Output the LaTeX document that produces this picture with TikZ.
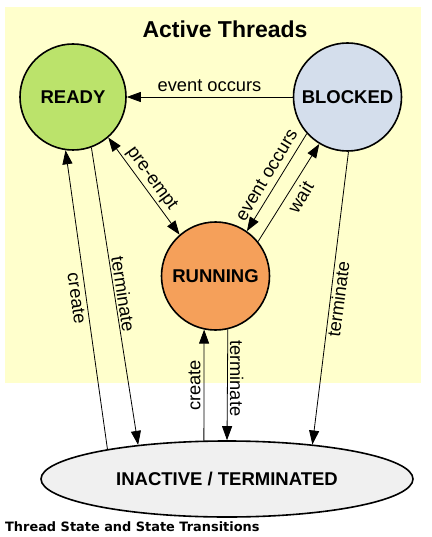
\documentclass[tikz,border=0pt]{standalone}
\usepackage{fontspec}
\setmainfont{Liberation Sans}
\newfontfamily\capfont{DejaVu Sans}
\usetikzlibrary{arrows.meta,shapes.geometric}
\definecolor{bgyellow}{HTML}{FFFFCC}
\definecolor{readyc}{HTML}{BBE36B}
\definecolor{blockedc}{HTML}{D4DEEC}
\definecolor{runningc}{HTML}{F5A05A}
\definecolor{inactivec}{HTML}{F0F0F0}
\tikzset{
  state/.style={circle,draw=black,line width=1.6pt,minimum size=108pt,inner sep=1pt,
    font=\fontsize{18.5}{20}\selectfont\bfseries},
  conn/.style={line width=0.8pt,-{Triangle[length=14pt,width=10pt]}},
  conntwo/.style={line width=0.8pt,{Triangle[length=14pt,width=10pt]}-{Triangle[length=14pt,width=10pt]}},
  lbl/.style={inner sep=0pt,font=\fontsize{18.3}{20}\selectfont},
}
\begin{document}
\begin{tikzpicture}[x=1pt,y=-1pt]
\useasboundingbox (0,0) rectangle (431,537);
\fill[bgyellow] (5,7) rectangle (421,383);
\node[inner sep=0pt,font=\fontsize{23}{25}\selectfont\bfseries] (title) at (225,29.5) {Active Threads};
\node[state,fill=readyc,minimum size=106pt] (ready) at (73,97) {READY};
\node[state,fill=blockedc] (blocked) at (347.5,97) {BLOCKED};
\node[state,fill=runningc] (running) at (215.5,276) {RUNNING};
\node[ellipse,draw=black,line width=1.6pt,fill=inactivec,minimum width=372pt,minimum height=76pt,inner sep=1pt,
  font=\fontsize{18.5}{20}\selectfont\bfseries] (inactive) at (227,479) {INACTIVE / TERMINATED};
% connectors
\draw[conn] (blocked.west) -- (ready.east);
\draw[conntwo] (ready.-49) -- (running.131);
\draw[conn] (blocked.-138) -- (running.55);
\draw[conn] (running.39) -- (blocked.-121);
\draw[conn] (blocked.-89.5) -- (inactive.22.3);
\draw[conn] (inactive.166.4) -- (ready.-98.6);
\draw[conn] (ready.-70.9) -- (inactive.159.7);
\draw[conn] (inactive.121.4) -- (running.-102.3);
\draw[conn] (running.-77.7) -- (inactive.90);
% labels
\node[lbl] (l1) at (209.5,85.5) {event occurs};
\node[lbl,rotate=-54] (l2) at (151.5,179) {pre-empt};
\node[lbl,rotate=59] (l3) at (266.5,175) {event occurs};
\node[lbl,rotate=58.6] (l4) at (300.5,197) {wait};
\node[lbl,rotate=-82] (l5) at (76.7,298.3) {create};
\node[lbl,rotate=-81.2] (l6) at (123.3,294) {terminate};
\node[lbl,rotate=82.5] (l7) at (338.3,299) {terminate};
\node[lbl,rotate=90] (l8) at (194.5,385.3) {create};
\node[lbl,rotate=-90] (l9) at (236.7,378.3) {terminate};
\node[inner sep=0pt,anchor=west,font=\capfont\bfseries\fontsize{12.9}{14}\selectfont] (cap) at (5,526.2) {Thread State and State Transitions};
\end{tikzpicture}
\end{document}
